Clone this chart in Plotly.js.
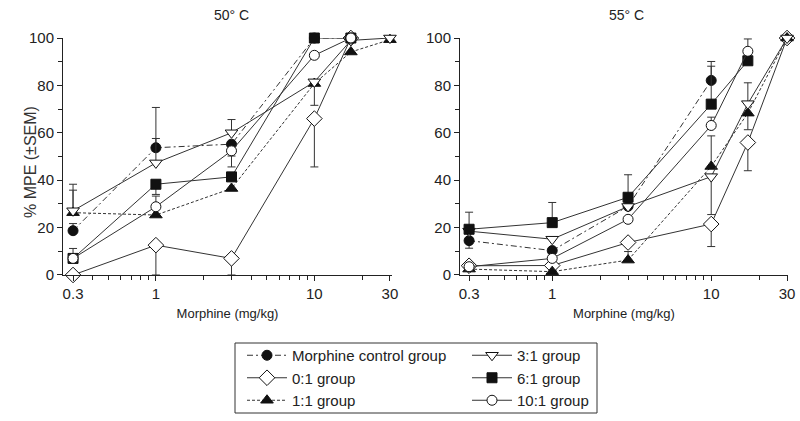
<!DOCTYPE html>
<html>
<head>
<meta charset="utf-8">
<script src="https://cdn.plot.ly/plotly-3.0.1.min.js"></script>
<style>html,body{margin:0;padding:0;background:#fff;}#chart{width:800px;height:421px;}</style>
</head>
<body>
<div id="chart"></div>
<script>
// Doses (mg/kg)
const doses = [0.3, 1, 3, 10, 17, 30];
const xTickVals = [0.3, 1, 10, 30];
const xTickText = ['0.3', '1', '10', '30'];
const xMinorTicks = [0.4, 0.5, 0.6, 0.7, 0.8, 0.9, 2, 3, 4, 5, 6, 7, 8, 9, 20];
const panelTitles = ['50° C', '55° C'];
const yTitle = '% MPE (±SEM)';
const xTitle = 'Morphine (mg/kg)';
const groupNames = ['Morphine control group', '0:1 group', '1:1 group', '3:1 group', '6:1 group', '10:1 group'];

// 50 °C  (% MPE)
const ctrl50 = [18.7, 53.7, 55.2, 100, 100, null];
const g01_50 = [0, 12.6, 7.0, 66.0, 100, null];
const g11_50 = [26.3, 25.3, 36.5, 80.8, 94.1, 99.3];
const g31_50 = [27.1, 47.3, 60.0, 81.5, 99, 100];
const g61_50 = [7.0, 38.3, 41.4, 100, 100, null];
const g101_50 = [7.0, 28.8, 52.4, 92.7, 100, null];
// 50 °C SEM (upper / lower)
const ctrl50Up = [3, 17, 0, 0, 0, 0];
const ctrl50Dn = [0, 0, 5, 0, 0, 0];
const g01_50Up = [0, 0, 0, 0, 0, 0];
const g01_50Dn = [0, 12.6, 7.0, 20.4, 0, 0];
const g11_50Up = [12, 0, 0, 0, 0, 0];
const g11_50Dn = [0, 0, 0, 9.2, 0, 0];
const g31_50Up = [8.7, 10.3, 5.6, 0, 0, 0];
const g31_50Dn = [0, 0, 0, 0, 0, 0];
const g61_50Up = [0, 0, 0, 0, 0, 0];
const g61_50Dn = [0, 4.3, 0, 0, 0, 0];
const g101_50Up = [4.2, 4.5, 0, 0, 0, 0];
const g101_50Dn = [0, 0, 6.8, 0, 0, 0];

// 55 °C  (% MPE)
const ctrl55 = [14.5, 10.3, 29, 82.1, null, null];
const g01_55 = [3.9, 4.0, 13.7, 21.5, 55.9, 100];
const g11_55 = [2.5, 1.4, 6.3, 45.8, 68.3, 100];
const g31_55 = [18.5, 15.1, 28.9, 41.5, 72.3, 100];
const g61_55 = [19.3, 22.1, 32.8, 72.1, 90.4, null];
const g101_55 = [3.5, 7.0, 23.5, 63.1, 94.4, null];
// 55 °C SEM (upper / lower)
const ctrl55Up = [0, 0, 0, 8, 0, 0];
const ctrl55Dn = [3.2, 0, 0, 0, 0, 0];
const g01_55Up = [0, 0, 0, 0, 0, 0];
const g01_55Dn = [0, 0, 0, 9.5, 11.9, 0];
const g11_55Up = [0, 0, 3.6, 12.9, 0, 0];
const g11_55Dn = [0, 0, 0, 0, 7, 0];
const g31_55Up = [0, 0, 0, 0, 8.8, 0];
const g31_55Dn = [0, 0, 0, 16, 0, 0];
const g61_55Up = [7.2, 8.5, 9.5, 16, 0, 0];
const g61_55Dn = [0, 0, 0, 0, 0, 0];
const g101_55Up = [0, 0, 0, 3.5, 5.2, 0];
const g101_55Dn = [0, 0, 0, 0, 0, 0];

const LINE = '#333';
const EDGE = '#111';
const styles = [
  {dash: '6px,3px,2px,3px', symbol: 'circle', fill: '#111', size: 10},
  {dash: 'solid', symbol: 'diamond', fill: '#fff', size: 12},
  {dash: '3px,2px', symbol: 'triangle-up', fill: '#111', size: 11},
  {dash: 'solid', symbol: 'triangle-down', fill: '#fff', size: 11},
  {dash: 'solid', symbol: 'square', fill: '#111', size: 10},
  {dash: 'solid', symbol: 'circle', fill: '#fff', size: 10}
];
const legendOf = ['legend', 'legend', 'legend', 'legend2', 'legend2', 'legend2'];

const panels = [
  {xa: 'x', ya: 'y', series: [ctrl50, g01_50, g11_50, g31_50, g61_50, g101_50],
   up: [ctrl50Up, g01_50Up, g11_50Up, g31_50Up, g61_50Up, g101_50Up],
   dn: [ctrl50Dn, g01_50Dn, g11_50Dn, g31_50Dn, g61_50Dn, g101_50Dn]},
  {xa: 'x2', ya: 'y2', series: [ctrl55, g01_55, g11_55, g31_55, g61_55, g101_55],
   up: [ctrl55Up, g01_55Up, g11_55Up, g31_55Up, g61_55Up, g101_55Up],
   dn: [ctrl55Dn, g01_55Dn, g11_55Dn, g31_55Dn, g61_55Dn, g101_55Dn]}
];

const traces = [];
panels.forEach((p, pi) => {
  p.series.forEach((ys, i) => {
    const s = styles[i];
    traces.push({
      type: 'scatter', mode: 'lines+markers',
      x: doses, y: ys, xaxis: p.xa, yaxis: p.ya,
      name: groupNames[i], legendgroup: 'g' + i, legend: legendOf[i],
      showlegend: pi === 0, cliponaxis: false,
      line: {color: LINE, width: 1, dash: s.dash},
      marker: {symbol: s.symbol, size: s.size, color: s.fill, line: {color: EDGE, width: 1}},
      error_y: {type: 'data', symmetric: false, array: p.up[i], arrayminus: p.dn[i],
                color: LINE, thickness: 1, width: 4}
    });
  });
});

const FONT = 'Liberation Sans, Arial, Helvetica, sans-serif';
function xAxis(domain, range) {
  return {
    type: 'log', domain: domain, range: range, anchor: domain[0] < 0.5 ? 'y' : 'y2',
    tickmode: 'array', tickvals: xTickVals, ticktext: xTickText,
    ticks: 'outside', ticklen: 5, tickwidth: 1, tickcolor: '#222',
    minor: {tickvals: xMinorTicks, ticks: 'outside', ticklen: 4, tickwidth: 1, tickcolor: '#222'},
    showline: true, linecolor: '#222', linewidth: 1, showgrid: false, zeroline: false,
    tickfont: {family: FONT, size: 15, color: '#222'},
    title: {text: xTitle, standoff: 7, font: {family: FONT, size: 13, color: '#222'}},
    automargin: false
  };
}
function yAxis(anchor) {
  return {
    domain: [0.3468, 0.9097], range: [0, 100], anchor: anchor,
    tickmode: 'linear', tick0: 0, dtick: 20,
    ticks: 'outside', ticklen: 5, tickwidth: 1, tickcolor: '#222',
    minor: {dtick: 10, ticks: 'outside', ticklen: 4, tickwidth: 1, tickcolor: '#222'},
    showline: true, linecolor: '#222', linewidth: 1, showgrid: false, zeroline: false,
    tickfont: {family: FONT, size: 15, color: '#222'},
    automargin: false
  };
}

const legendCommon = {
  bgcolor: 'rgba(0,0,0,0)', borderwidth: 0, orientation: 'v',
  font: {family: FONT, size: 15, color: '#222'},
  xanchor: 'left', yanchor: 'top', traceorder: 'grouped', tracegroupgap: 0, itemwidth: 40
};

const annotations = panelTitles.map((t, i) => ({
  text: t, xref: 'paper', yref: 'paper', x: i === 0 ? 232 / 800 : 626 / 800, y: 1 - 15 / 421,
  xanchor: 'center', yanchor: 'middle', showarrow: false,
  font: {family: FONT, size: 14, color: '#222'}
}));
annotations.push({
  text: yTitle, xref: 'paper', yref: 'paper', x: 31 / 800, y: 1 - 162 / 421,
  xanchor: 'center', yanchor: 'middle', textangle: -90, showarrow: false,
  font: {family: FONT, size: 16, color: '#333'}
});

const layout = {
  width: 800, height: 421,
  margin: {l: 0, r: 0, t: 0, b: 0},
  paper_bgcolor: '#fff', plot_bgcolor: '#fff',
  font: {family: FONT, color: '#222'},
  xaxis: xAxis([0.0788, 0.49], [-0.586, 1.49]),
  yaxis: yAxis('x'),
  xaxis2: xAxis([0.575, 0.985], [-0.580, 1.483]),
  yaxis2: yAxis('x2'),
  legend: Object.assign({x: 242 / 800, y: 1 - 339 / 421}, legendCommon),
  legend2: Object.assign({x: 467 / 800, y: 1 - 339 / 421}, legendCommon),
  shapes: [{type: 'rect', xref: 'paper', yref: 'paper',
            x0: 235 / 800, x1: 597 / 800, y0: 1 - 413 / 421, y1: 1 - 343 / 421,
            line: {color: '#333', width: 1}}],
  annotations: annotations
};

Plotly.newPlot('chart', traces, layout, {displayModeBar: false, staticPlot: true});
</script>
</body>
</html>
